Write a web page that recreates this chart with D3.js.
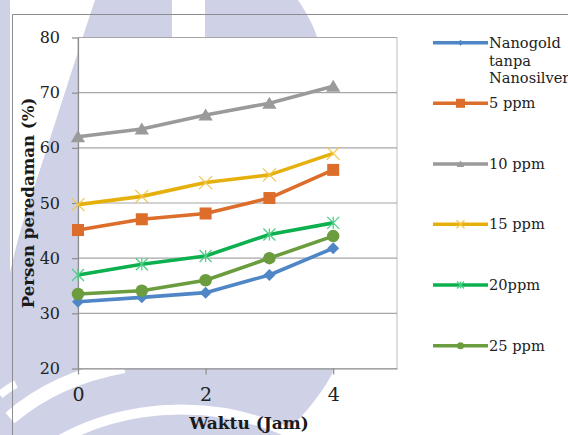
<!DOCTYPE html>
<html>
<head>
<meta charset="utf-8">
<script src="https://cdn.jsdelivr.net/npm/d3@7"></script>
<style>
html,body{margin:0;padding:0;background:#fff;}
svg{display:block;}
</style>
</head>
<body>
<svg id="chart" width="568" height="435"></svg>
<script>
// ---- data ----
const xValues = [0, 1, 2, 3, 4];
const seriesNames = ["Nanogold tanpa Nanosilver", "5 ppm", "10 ppm", "15 ppm", "20ppm", "25 ppm"];
const nanogold = [32.1, 32.9, 33.75, 36.95, 41.8];
const ppm5 = [45.1, 47.05, 48.1, 50.9, 56.0];
const ppm10 = [62.0, 63.4, 65.95, 68.1, 71.15];
const ppm15 = [49.7, 51.2, 53.7, 55.1, 59.0];
const ppm20 = [36.95, 38.9, 40.4, 44.3, 46.4];
const ppm25 = [33.5, 34.1, 36.0, 40.0, 44.0];
const yTicks = [20, 30, 40, 50, 60, 70, 80];
const xTicks = [0, 2, 4];
const xTitle = "Waktu (Jam)";
const yTitle = "Persen peredaman (%)";

const seriesValues = [nanogold, ppm5, ppm10, ppm15, ppm20, ppm25];
const styles = [
  {color: "#4f86c6", marker: "diamond", mcolor: "#4f86c6"},
  {color: "#dc6d2a", marker: "square", mcolor: "#dc6d2a"},
  {color: "#9a9a9a", marker: "triangle", mcolor: "#9a9a9a"},
  {color: "#e6b00c", marker: "x", mcolor: "#f2c74a"},
  {color: "#0db04f", marker: "star", mcolor: "#4cd085"},
  {color: "#6b9c3e", marker: "circle", mcolor: "#6b9c3e"}
];

const svg = d3.select("#chart");
const serif = "'DejaVu Serif', serif";

// ---- watermark background ----
const wm = "#cfd2e7";
const bg = svg.append("g");
bg.append("rect").attr("x", 0).attr("y", 0).attr("width", 10).attr("height", 435).attr("fill", wm);
bg.append("path").attr("fill", wm)
  .attr("d", "M95,0 L172,0 L172,40 L78,40 L78,372 L0,372 L0,320 C10,270 18,235 30,200 C50,140 75,60 95,0 Z");
bg.append("path").attr("fill", wm)
  .attr("d", "M205,0 L298,0 C306,12 314,26 318,40 L205,40 Z");
bg.append("path").attr("fill", wm)
  .attr("d", "M0,368 L335,368 C322,395 300,420 282,435 L0,435 Z");
bg.append("path").attr("fill", "none").attr("stroke", "#fff").attr("stroke-width", 14)
  .attr("d", "M10,418 C40,392 80,374 124,366");
bg.append("path").attr("fill", "none").attr("stroke", "#fff").attr("stroke-width", 10)
  .attr("d", "M60,440 C110,412 170,404 225,413 C260,420 285,428 300,440");
bg.append("path").attr("fill", "none").attr("stroke", "#fff").attr("stroke-width", 8)
  .attr("d", "M0,395 C6,390 12,386 16,384");

// chart frame
svg.append("path").attr("fill", "none").attr("stroke", "#8c8c8c").attr("stroke-width", 1)
  .attr("d", "M12.5,435 L12.5,14.5 L568,14.5");

// ---- plot ----
const plot = {left: 78, right: 397, top: 37.5, bottom: 368.5};
const x = d3.scaleLinear().domain([0, 5]).range([plot.left, plot.right]);
const y = d3.scaleLinear().domain([20, 80]).range([plot.bottom, plot.top]);

svg.append("rect").attr("x", plot.left).attr("y", plot.top)
  .attr("width", plot.right - plot.left).attr("height", plot.bottom - plot.top)
  .attr("fill", "#fff").attr("stroke", "#bdbdbd").attr("stroke-width", 1);

// gridlines
svg.append("g").selectAll("line").data(yTicks.filter(d => d > 20)).join("line")
  .attr("x1", plot.left).attr("x2", plot.right)
  .attr("y1", d => y(d)).attr("y2", d => y(d))
  .attr("stroke", "#a6a6a6").attr("stroke-width", 1.2);

// y axis
const yAxis = svg.append("g").attr("transform", `translate(${plot.left},0)`)
  .call(d3.axisLeft(y).tickValues(yTicks).tickFormat(d3.format("d")).tickSize(6).tickPadding(12).tickSizeOuter(0));
yAxis.select(".domain").attr("stroke", "#8c8c8c").attr("stroke-width", 1.2);
yAxis.selectAll(".tick line").attr("stroke", "#8c8c8c").attr("stroke-width", 1.2);
yAxis.selectAll(".tick text").attr("font-family", serif).attr("font-size", 16).attr("fill", "#222");

// x axis
const xAxis = svg.append("g").attr("transform", `translate(0,${plot.bottom})`)
  .call(d3.axisBottom(x).tickValues(xTicks).tickFormat(d3.format("d")).tickSize(6).tickPadding(13).tickSizeOuter(0));
xAxis.select(".domain").attr("stroke", "#8c8c8c").attr("stroke-width", 1.2);
xAxis.selectAll(".tick line").attr("stroke", "#8c8c8c").attr("stroke-width", 1.2);
xAxis.selectAll(".tick text").attr("font-family", serif).attr("font-size", 19).attr("fill", "#222");

// titles
svg.append("text").attr("x", 249).attr("y", 428.5).attr("text-anchor", "middle")
  .attr("font-family", serif).attr("font-weight", "bold").attr("font-size", 17).attr("fill", "#1a1a1a")
  .text(xTitle);
svg.append("text").attr("transform", `translate(34,${(plot.top + plot.bottom) / 2}) rotate(-90)`)
  .attr("text-anchor", "middle")
  .attr("font-family", serif).attr("font-weight", "bold").attr("font-size", 16.6).attr("fill", "#1a1a1a")
  .text(yTitle);

// markers
function drawMarker(g, type, cx, cy, s, color) {
  const h = s / 2;
  if (type === "diamond") {
    g.append("path").attr("d", `M${cx},${cy - h} L${cx + h},${cy} L${cx},${cy + h} L${cx - h},${cy} Z`).attr("fill", color);
  } else if (type === "square") {
    g.append("rect").attr("x", cx - h).attr("y", cy - h).attr("width", s).attr("height", s).attr("fill", color);
  } else if (type === "triangle") {
    g.append("path").attr("d", `M${cx},${cy - h} L${cx + h * 1.1},${cy + h * 0.85} L${cx - h * 1.1},${cy + h * 0.85} Z`).attr("fill", color);
  } else if (type === "circle") {
    g.append("circle").attr("cx", cx).attr("cy", cy).attr("r", h).attr("fill", color);
  } else if (type === "x") {
    g.append("path").attr("d", `M${cx - h},${cy - h} L${cx + h},${cy + h} M${cx - h},${cy + h} L${cx + h},${cy - h}`)
      .attr("stroke", color).attr("stroke-width", 1.3).attr("fill", "none");
  } else if (type === "star") {
    g.append("path").attr("d", `M${cx - h},${cy - h} L${cx + h},${cy + h} M${cx - h},${cy + h} L${cx + h},${cy - h} M${cx},${cy - h} L${cx},${cy + h}`)
      .attr("stroke", color).attr("stroke-width", 1.3).attr("fill", "none");
  }
}
const plotSizes = {diamond: 12, square: 12, triangle: 13, circle: 12.5, x: 13, star: 12};
const legSizes = {diamond: 6, square: 9, triangle: 7, circle: 7, x: 8, star: 7};

const line = d3.line().x((d, i) => x(xValues[i])).y(d => y(d));
seriesValues.forEach((vals, si) => {
  const st = styles[si];
  const g = svg.append("g");
  g.append("path").datum(vals).attr("d", line)
    .attr("fill", "none").attr("stroke", st.color).attr("stroke-width", 3.6).attr("stroke-linejoin", "round");
  vals.forEach((v, i) => drawMarker(g, st.marker, x(xValues[i]), y(v), plotSizes[st.marker], st.mcolor));
});

// legend
const legY = [42.7, 103.3, 164, 224.3, 285, 345.7];
const leg = svg.append("g");
seriesNames.forEach((name, i) => {
  const st = styles[i];
  leg.append("line").attr("x1", 433).attr("x2", 488).attr("y1", legY[i]).attr("y2", legY[i])
    .attr("stroke", st.color).attr("stroke-width", 3.6);
  drawMarker(leg, st.marker, 460.5, legY[i], legSizes[st.marker], st.mcolor);
  if (i === 0) {
    const lines = ["Nanogold", "tanpa", "Nanosilver"];
    lines.forEach((t, k) => {
      leg.append("text").attr("x", 489).attr("y", 48.3 + k * 17.5)
        .attr("font-family", serif).attr("font-size", 14.6).attr("fill", "#222").text(t);
    });
  } else {
    leg.append("text").attr("x", 489).attr("y", legY[i] + 5)
      .attr("font-family", serif).attr("font-size", 14.6).attr("fill", "#222").text(name);
  }
});
</script>
</body>
</html>
